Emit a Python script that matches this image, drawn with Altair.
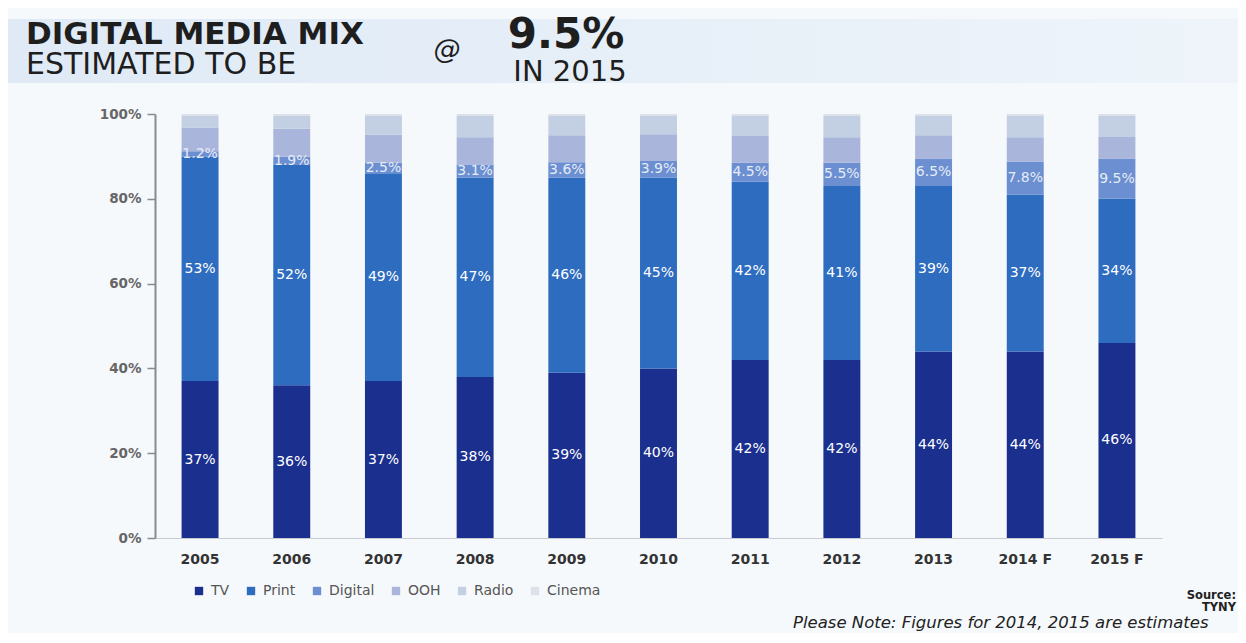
import altair as alt
import pandas as pd

years = ["2005", "2006", "2007", "2008", "2009", "2010", "2011", "2012", "2013", "2014 F", "2015 F"]
media = ["TV", "Print", "Digital", "OOH", "Radio", "Cinema"]
colors = ["#1b2f8e", "#2e6cbf", "#6b8fd0", "#a9b5da", "#c3cfe2", "#dde2ea"]

tv = [37, 36, 37, 38, 39, 40, 42, 42, 44, 44, 46]
print_ = [53, 52, 49, 47, 46, 45, 42, 41, 39, 37, 34]
digital = [1.2, 1.9, 2.5, 3.1, 3.6, 3.9, 4.5, 5.5, 6.5, 7.8, 9.5]
ooh = [5.6, 6.6, 6.6, 6.4, 6.4, 6.3, 6.3, 6.0, 5.5, 5.7, 5.1]
radio = [2.7, 3.0, 4.4, 5.0, 4.5, 4.3, 4.7, 5.0, 4.5, 5.0, 4.9]
cinema = [0.5, 0.5, 0.5, 0.5, 0.5, 0.5, 0.5, 0.5, 0.5, 0.5, 0.5]
labelled = ["TV", "Print", "Digital"]

series = [tv, print_, digital, ooh, radio, cinema]
rows = []
for mi, (m, vals) in enumerate(zip(media, series)):
    for y, v in zip(years, vals):
        rows.append({"year": y, "media": m, "idx": mi, "value": v,
                     "label": (f"{v:g}%" if m in labelled else "")})
df = pd.DataFrame(rows)

OX, OY = 155, 114  # page position of plot origin
FONT = "DejaVu Sans"

x_enc = alt.X("year:N", sort=years,
              scale=alt.Scale(domain=years, paddingInner=0.597, paddingOuter=0.29),
              axis=alt.Axis(title=None, labelAngle=0, ticks=False, labelPadding=14,
                            labelFont=FONT, labelFontSize=14, labelFontWeight="bold",
                            labelColor="#333333", domainColor="#c8ccd2", domainWidth=1))
y_scale = alt.Scale(domain=[0, 100], nice=False)

bars = alt.Chart(df).mark_bar().encode(
    x=x_enc,
    y=alt.Y("value:Q", stack="zero", scale=y_scale,
            axis=alt.Axis(title=None, values=[0, 20, 40, 60, 80, 100],
                          labelExpr="datum.value + '%'", grid=False,
                          tickSize=8, tickColor="#8a8a8a", tickWidth=1.5,
                          domainColor="#8a8a8a", domainWidth=2, labelPadding=6,
                          labelFont=FONT, labelFontSize=13.5, labelFontWeight="bold",
                          labelColor="#666666")),
    color=alt.Color("media:N", sort=media,
                    scale=alt.Scale(domain=media, range=colors),
                    legend=alt.Legend(title=None, orient="none", legendX=37, legendY=470,
                                      direction="horizontal", columns=6,
                                      symbolType="square", symbolSize=70,
                                      symbolStrokeWidth=0, columnPadding=14,
                                      labelFont=FONT, labelFontSize=14,
                                      labelColor="#555555", labelOffset=5)),
    order=alt.Order("idx:Q", sort="ascending"),
)

texts = alt.Chart(df).transform_stack(
    stack="value", groupby=["year"],
    sort=[alt.SortField("idx", order="ascending")], as_=["y0", "y1"]
).transform_calculate(
    mid="(datum.y0 + datum.y1) / 2"
).transform_filter(
    "datum.label != ''"
).mark_text(font=FONT, fontSize=14).encode(
    x=alt.X("year:N", sort=years),
    y=alt.Y("mid:Q", scale=y_scale),
    text="label:N",
    color=alt.condition("datum.media == 'Digital'", alt.value("#e6ecf7"), alt.value("white")),
)

dummy = pd.DataFrame({"d": [0]})


def ann(text, px, py, **kw):
    return alt.Chart(dummy).mark_text(text=text, **kw).encode(
        x=alt.value(px - OX), y=alt.value(py - OY))


band = alt.Chart(dummy).mark_rect(
    color=alt.LinearGradient(gradient="linear",
                             stops=[alt.GradientStop(color="#dfeaf6", offset=0),
                                    alt.GradientStop(color="#eef4fa", offset=1)],
                             x1=0, x2=1, y1=0, y2=0)
).encode(x=alt.value(8 - OX), x2=alt.value(1246 - OX), y=alt.value(19 - OY), y2=alt.value(83 - OY))

TF = "DejaVu Sans"
title_layers = [
    band,
    ann("DIGITAL MEDIA MIX", 26, 44, align="left", baseline="alphabetic", font=TF,
        fontSize=31, fontWeight="bold", color="#1e1e1e"),
    ann("ESTIMATED TO BE", 26, 74, align="left", baseline="alphabetic", font=TF,
        fontSize=30, color="#1e1e1e"),
    ann("@", 447, 58, align="center", baseline="alphabetic", font=TF,
        fontSize=27, fontStyle="italic", color="#1e1e1e"),
    ann("9.5%", 566, 48, align="center", baseline="alphabetic", font=TF,
        fontSize=42, fontWeight="bold", color="#1e1e1e"),
    ann("IN 2015", 570, 81, align="center", baseline="alphabetic", font=TF,
        fontSize=29, color="#1e1e1e"),
    ann("Source:", 1236, 599, align="right", baseline="alphabetic", font=TF,
        fontSize=11.5, fontWeight="bold", color="#222222"),
    ann("TYNY", 1236, 611, align="right", baseline="alphabetic", font=TF,
        fontSize=11.5, fontWeight="bold", color="#222222"),
    ann("Please Note: Figures for 2014, 2015 are estimates", 793, 628, align="left",
        baseline="alphabetic", font=TF, fontSize=16.5, fontStyle="italic", color="#222222"),
]

chart = alt.layer(*title_layers, bars, texts).properties(
    width=1007, height=424,
    autosize=alt.AutoSizeParams(type="none"),
    padding={"left": 147, "top": 106, "right": 76, "bottom": 95},
    background="#f6f9fc",
).configure_view(stroke=None)

chart.save("out.html", embed_options={"renderer": "svg", "actions": False})
